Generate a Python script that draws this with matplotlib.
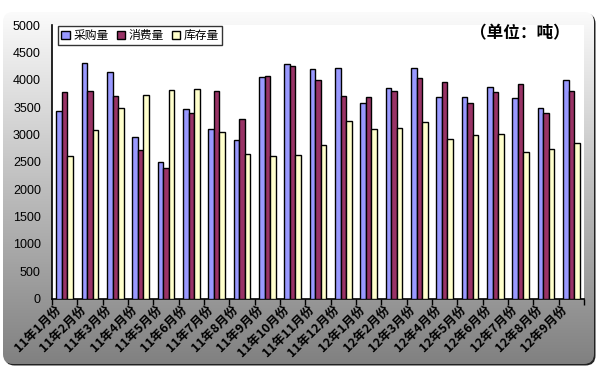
import numpy as np
import matplotlib
matplotlib.use("Agg")
import matplotlib.pyplot as plt
from matplotlib.patches import FancyBboxPatch, Patch
from matplotlib.transforms import ScaledTranslation

plt.rcParams['font.family'] = ['Noto Sans CJK SC', 'DejaVu Sans']

months = ["11年1月份", "11年2月份", "11年3月份", "11年4月份", "11年5月份",
          "11年6月份", "11年7月份", "11年8月份", "11年9月份", "11年10月份",
          "11年11月份", "11年12月份", "12年1月份", "12年2月份", "12年3月份",
          "12年4月份", "12年5月份", "12年6月份", "12年7月份", "12年8月份",
          "12年9月份"]
purchase = [3430, 4305, 4145, 2950, 2495, 3465, 3100, 2900, 4050, 4285,
            4200, 4212, 3575, 3845, 4210, 3685, 3685, 3860, 3665, 3485, 3995]
consume = [3775, 3795, 3700, 2715, 2385, 3385, 3795, 3285, 4070, 4250,
           3995, 3705, 3685, 3790, 4025, 3955, 3575, 3775, 3925, 3395, 3795]
stock = [2610, 3080, 3485, 3725, 3815, 3830, 3045, 2640, 2610, 2625,
         2805, 3240, 3095, 3115, 3225, 2915, 2985, 3005, 2675, 2735, 2845]

series = [("采购量", purchase, "#9999FF"),
          ("消费量", consume, "#993366"),
          ("库存量", stock, "#FFFFCC")]

W, H = 598, 367
fig = plt.figure(figsize=(W / 100, H / 100), dpi=100)
fig.patch.set_facecolor("white")

# gradient rounded background
bg = fig.add_axes([0, 0, 1, 1])
bg.set_xlim(0, W)
bg.set_ylim(H, 0)
bg.axis("off")
grad = np.linspace(1.0, 0.5, 256).reshape(-1, 1)
img = bg.imshow(np.dstack([grad, grad, grad]), extent=[0, W, H, 0], aspect="auto", zorder=0)
box = FancyBboxPatch((3, 12), W - 7, H - 15, boxstyle="round,pad=0,rounding_size=10",
                     facecolor="none", edgecolor="none")
bg.add_patch(box)
img.set_clip_path(box)
shadow = FancyBboxPatch((4.5, 13.5), W - 7, H - 15, boxstyle="round,pad=0,rounding_size=10",
                        facecolor="#222222", edgecolor="none", zorder=-1)
bg.add_patch(shadow)

ax = fig.add_axes([52 / W, 1 - 298.5 / H, (584 - 52) / W, (298.5 - 25) / H])
ax.set_facecolor("white")

x = np.arange(len(months))
bw = 0.215
for k, (name, vals, col) in enumerate(series):
    ax.bar(x + (k - 1) * bw, vals, width=bw, color=col, edgecolor="black",
           linewidth=1.0, label=name, zorder=3)

ax.set_xlim(-0.5, len(months) - 0.5)
ax.set_ylim(0, 5000)
ax.set_yticks(range(0, 5001, 500))
ax.tick_params(axis="y", length=0, pad=8)
for t in ax.get_yticklabels():
    t.set_fontfamily("Liberation Sans")
    t.set_fontsize(9)

ax.set_xticks(x)
ax.set_xticklabels(months, rotation=45, ha="right", va="center",
                   rotation_mode="anchor", fontsize=9, fontweight="bold")
ax.tick_params(axis="x", length=0, pad=2)
shift = ScaledTranslation(-6 / 100, -6 / 100, fig.dpi_scale_trans)
for t in ax.get_xticklabels():
    t.set_transform(t.get_transform() + shift)
ax.set_xticks(np.arange(-0.5, len(months), 1), minor=True)
ax.tick_params(axis="x", which="minor", length=4, width=1, direction="out")

for s in ["top", "right"]:
    ax.spines[s].set_visible(False)
for s in ["left", "bottom"]:
    ax.spines[s].set_color("black")
    ax.spines[s].set_linewidth(1.2)

handles = [Patch(facecolor=c, edgecolor="black", label=n) for n, _, c in series]
leg = ax.legend(handles=handles, loc="upper left", bbox_to_anchor=(0.012, 0.997),
                ncol=3, fontsize=8.5, frameon=True, fancybox=False,
                edgecolor="black", handlelength=0.7, handleheight=0.7,
                handletextpad=0.3, columnspacing=0.7, borderpad=0.25,
                borderaxespad=0)
leg.get_frame().set_linewidth(1.0)

fig.text(520 / W, 1 - 33 / H, "（单位：吨）", ha="center", va="center",
         fontsize=12, fontweight="bold")

fig.savefig("out.png", dpi=100)
